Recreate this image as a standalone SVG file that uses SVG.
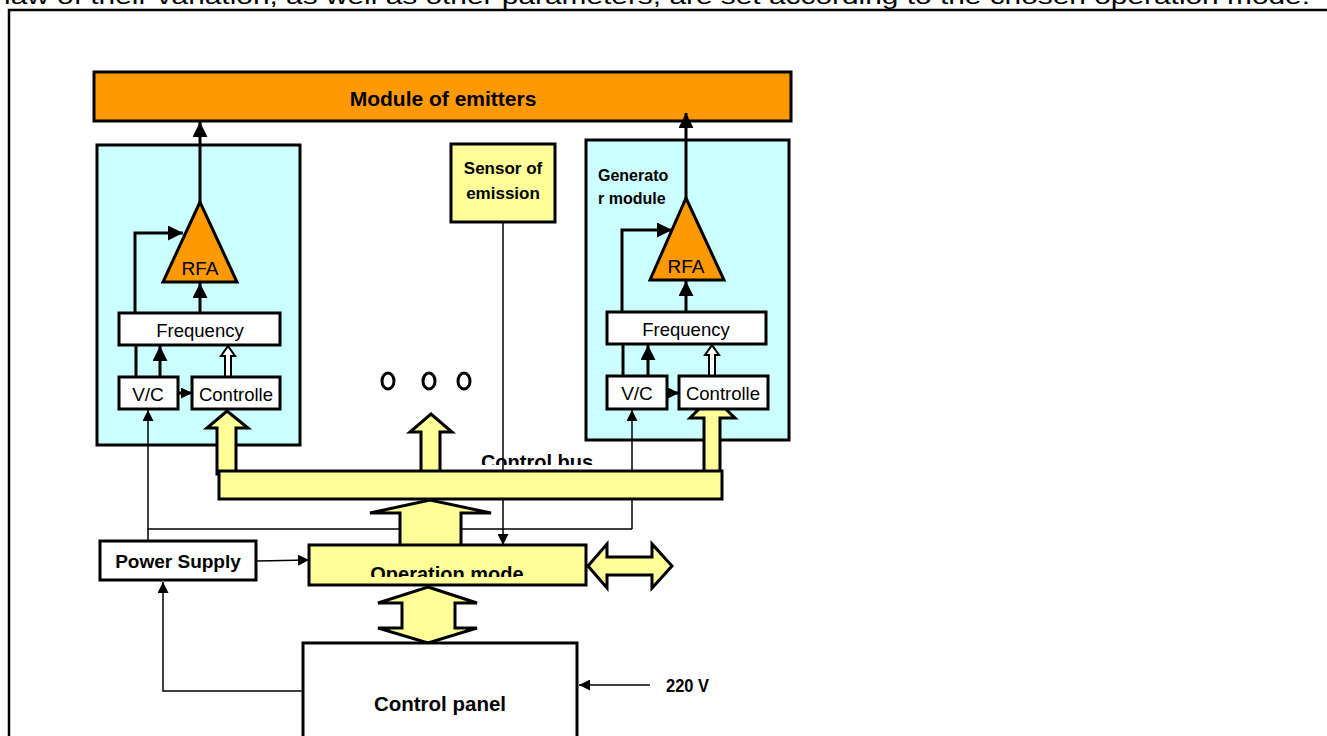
<svg xmlns="http://www.w3.org/2000/svg" width="1327" height="736" viewBox="0 0 1327 736">
<style>
text{font-family:"Liberation Sans",Arial,sans-serif;fill:#000}
.b{font-weight:bold}
.c{text-anchor:middle}
.box{stroke:#000;stroke-width:3}
.gen{fill:#CCFFFF}
.wh{fill:#fff}
.yel{fill:#FFFF99}
.org{fill:#FF9900}
.thin{stroke:#000;stroke-width:1.5;fill:none}
.thick{stroke:#000;stroke-width:3;fill:none}
.blk{fill:#FFFF99;stroke:#000;stroke-width:3;stroke-linejoin:miter}
.hol{fill:#fff;stroke:#000;stroke-width:2}
</style>
<defs>
<marker id="ah" viewBox="0 0 10 10" refX="10" refY="5" markerWidth="12" markerHeight="11" markerUnits="userSpaceOnUse" orient="auto"><path d="M0,0 L10,5 L0,10 z" fill="#000"/></marker>
<marker id="ahT" viewBox="0 0 10 10" refX="10" refY="5" markerWidth="15" markerHeight="15" markerUnits="userSpaceOnUse" orient="auto"><path d="M0,0 L10,5 L0,10 z" fill="#000"/></marker>
<marker id="ahS" viewBox="0 0 10 10" refX="10" refY="5" markerWidth="11" markerHeight="11" markerUnits="userSpaceOnUse" orient="auto"><path d="M0,0 L10,5 L0,10 z" fill="#000"/></marker>
<clipPath id="clipBus"><rect x="0" y="0" width="1327" height="465"/></clipPath>
<clipPath id="clipOp"><rect x="0" y="0" width="1327" height="577"/></clipPath>
</defs>

<rect width="1327" height="736" fill="#fff"/>
<text x="4" y="4" font-size="22" textLength="1306" lengthAdjust="spacingAndGlyphs">law of their variation, as well as other parameters, are set according to the chosen operation mode.</text>
<path d="M9,736 V10 H1327" stroke="#000" stroke-width="2.5" fill="none"/>

<g id="module-of-emitters">
<rect class="box org" x="94" y="72" width="697" height="49"/>
<text class="b c" x="443" y="106" font-size="21">Module of emitters</text>
</g>

<g id="generator-left">
<rect class="box gen" x="97" y="145" width="203" height="300"/>
</g>
<g id="generator-right">
<rect class="box gen" x="586" y="140" width="203" height="300"/>
<text class="b" x="598" y="181" font-size="16">Generato</text>
<text class="b" x="598" y="204" font-size="16">r module</text>
</g>

<g id="sensor">
<rect class="box yel" x="451" y="144" width="104" height="78"/>
<text class="b c" x="503" y="174" font-size="17">Sensor of</text>
<text class="b c" x="503" y="199" font-size="17">emission</text>
</g>

<g id="connectors">
<line class="thick" x1="200" y1="202" x2="200" y2="122" marker-end="url(#ahT)"/>
<line class="thick" x1="200" y1="313" x2="200" y2="283" marker-end="url(#ahT)"/>
<polyline class="thick" points="135,313 135,233 183,233" marker-end="url(#ahT)"/>
<line class="thick" x1="136" y1="377" x2="136" y2="345"/>
<line class="thick" x1="160" y1="377" x2="160" y2="346" marker-end="url(#ahT)"/>
<line class="thick" x1="178" y1="393" x2="192" y2="393" marker-end="url(#ahS)"/>
<polygon class="hol" points="225,377 225,356 221,356 228,346 235,356 231,356 231,377"/>
<line class="thick" x1="686" y1="198" x2="686" y2="113" marker-end="url(#ahT)"/>
<line class="thick" x1="686" y1="312" x2="686" y2="281" marker-end="url(#ahT)"/>
<polyline class="thick" points="622,312 622,230 672,230" marker-end="url(#ahT)"/>
<line class="thick" x1="623" y1="376" x2="623" y2="344"/>
<line class="thick" x1="648" y1="376" x2="648" y2="345" marker-end="url(#ahT)"/>
<line class="thick" x1="667" y1="393" x2="679" y2="393" marker-end="url(#ahS)"/>
<polygon class="hol" points="709,376 709,355 705,355 712,345 719,355 715,355 715,376"/>
<polyline class="thin" points="148,541 148,529 632,529"/>
<line class="thin" x1="148" y1="529" x2="148" y2="410" marker-end="url(#ah)"/>
<line class="thin" x1="632" y1="529" x2="632" y2="410" marker-end="url(#ah)"/>
<line class="thin" x1="503" y1="222" x2="503" y2="545" marker-end="url(#ah)"/>
<line class="thin" x1="257" y1="561" x2="309" y2="560" marker-end="url(#ah)"/>
<polyline class="thin" points="303,691 163,691 163,582" marker-end="url(#ah)"/>
<line class="thin" x1="650" y1="685" x2="579" y2="685" marker-end="url(#ah)"/>
<polygon class="blk" points="217,474 217,428 207,428 227,411 248,428 236,428 236,474"/>
<polygon class="blk" points="421,474 421,432 410,432 431,414 452,432 440,432 440,474"/>
<polygon class="blk" points="704,474 704,418 690,418 712,396 735,418 720,418 720,474"/>
</g>

<g id="rfa-left">
<polygon class="box org" points="200,202 163,282 237,282"/>
<text class="c" x="200" y="275" font-size="19">RFA</text>
</g>
<g id="frequency-left">
<rect class="box wh" x="119" y="313" width="161" height="32"/>
<text class="c" x="200" y="337" font-size="18.5">Frequency</text>
</g>
<g id="vc-left">
<rect class="box wh" x="119" y="377" width="59" height="32"/>
<text class="c" x="148" y="401" font-size="19">V/C</text>
</g>
<g id="controller-left">
<rect class="box wh" x="192" y="377" width="88" height="32"/>
<text class="c" x="236" y="401" font-size="18.5">Controlle</text>
</g>

<g id="rfa-right">
<polygon class="box org" points="686,198 650,280 724,280"/>
<text class="c" x="686" y="273" font-size="19">RFA</text>
</g>
<g id="frequency-right">
<rect class="box wh" x="607" y="312" width="159" height="32"/>
<text class="c" x="686" y="336" font-size="18.5">Frequency</text>
</g>
<g id="vc-right">
<rect class="box wh" x="607" y="376" width="60" height="33"/>
<text class="c" x="637" y="400" font-size="19">V/C</text>
</g>
<g id="controller-right">
<rect class="box wh" x="679" y="376" width="89" height="33"/>
<text class="c" x="723" y="400" font-size="18.5">Controlle</text>
</g>

<g id="dots">
<ellipse cx="388" cy="381" rx="6" ry="8" fill="none" stroke="#000" stroke-width="3"/>
<ellipse cx="429" cy="381" rx="6" ry="8" fill="none" stroke="#000" stroke-width="3"/>
<ellipse cx="464" cy="381" rx="6" ry="8" fill="none" stroke="#000" stroke-width="3"/>
</g>

<g id="control-bus">
<text class="b c" x="537" y="469" font-size="20" clip-path="url(#clipBus)">Control bus</text>
<rect class="box yel" x="219" y="471" width="503" height="28"/>
</g>

<g id="bus-feed-arrow">
<polygon class="blk" points="400,546 400,513 370,513 430,500 491,513 461,513 461,546"/>
</g>

<g id="power-supply">
<rect class="box wh" x="100" y="541" width="156" height="39"/>
<text class="b c" x="178" y="568" font-size="19">Power Supply</text>
</g>

<g id="operation-mode">
<rect class="box yel" x="309" y="545" width="277" height="40"/>
<text class="b c" x="447" y="581" font-size="20" clip-path="url(#clipOp)">Operation mode</text>
</g>

<g id="io-arrow">
<polygon class="blk" points="588,566 607,544 607,557 652,557 652,544 672,566 652,588 652,575 607,575 607,588"/>
</g>

<g id="panel-arrow">
<polygon class="blk" points="428,587 477,603 455,603 455,628 477,628 428,643 378,628 402,628 402,603 378,603"/>
</g>

<g id="control-panel">
<rect class="box wh" x="303" y="643" width="274" height="100"/>
<text class="b c" x="440" y="711" font-size="20.5">Control panel</text>
</g>

<g id="v220">
<text class="b" x="666" y="692" font-size="19" textLength="43" lengthAdjust="spacingAndGlyphs">220 V</text>
</g>
</svg>
